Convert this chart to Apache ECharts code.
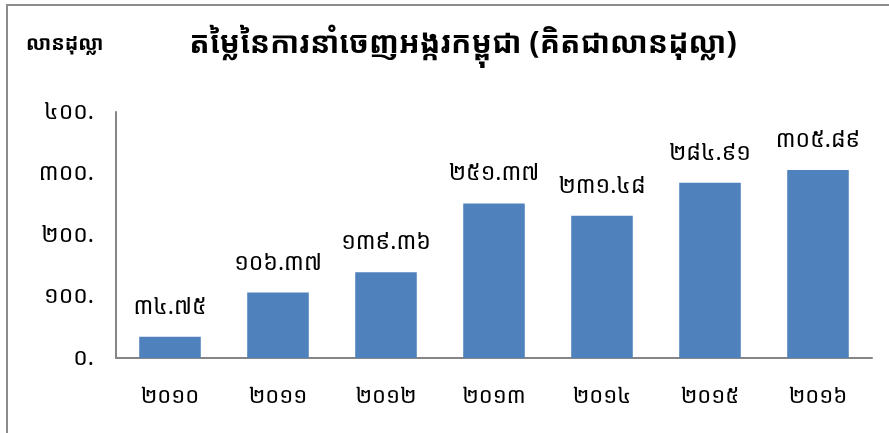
<!DOCTYPE html>
<html>
<head>
<meta charset="utf-8">
<script src="https://cdn.jsdelivr.net/npm/echarts@6/dist/echarts.min.js"></script>
<style>
  html, body { margin: 0; padding: 0; background: #fff; }
  #main { width: 889px; height: 433px; }
</style>
</head>
<body>
<div id="main"></div>
<script>
const years = ["២០១០", "២០១១", "២០១២", "២០១៣", "២០១៤", "២០១៥", "២០១៦"];
const exportValues = [34.75, 106.37, 139.36, 251.37, 231.48, 284.91, 305.89];
const yTickLabels = ["០.", "១០០.", "២០០.", "៣០០.", "៤០០."];
const titleText = "តម្លៃនៃការនាំចេញអង្ករកម្ពុជា (គិតជាលានដុល្លា)";
const unitText = "លានដុល្លា";

const khmerDigits = "០១២៣៤៥៦៧៨៩";
// turn 34.75 into ៣៤.៧៥
function toKhmer(v) {
  return v.toFixed(2).replace(/[0-9]/g, d => khmerDigits[+d]);
}

const fontFam = "'Noto Sans Khmer', 'Khmer OS', 'DejaVu Sans', sans-serif";
const myChart = echarts.init(document.getElementById("main"));

const option = {
  animation: false,
  graphic: [
    {
      type: "rect",
      shape: { x: 7, y: 5, width: 900, height: 450 },
      style: { fill: "none", stroke: "#8c8c8c", lineWidth: 2 }
    },
    {
      type: "text",
      left: 26,
      top: 34,
      style: { text: unitText, font: "bold 20px " + fontFam, fill: "#000" }
    }
  ],
  title: {
    text: titleText,
    left: 458,
    top: 24,
    textAlign: "center",
    textStyle: { fontSize: 30, fontWeight: "bold", color: "#000", fontFamily: fontFam }
  },
  grid: {
    left: 116,
    right: 17,
    top: 112,
    bottom: 75
  },
  xAxis: {
    type: "category",
    data: years,
    axisLine: { lineStyle: { color: "#868686", width: 2 } },
    axisTick: { show: false },
    axisLabel: { color: "#000", fontSize: 22, margin: 28, fontFamily: fontFam }
  },
  yAxis: {
    type: "value",
    min: 0,
    max: 400,
    interval: 100,
    splitLine: { show: false },
    axisLine: { show: true, lineStyle: { color: "#868686", width: 2 } },
    axisTick: { show: false },
    axisLabel: {
      color: "#000",
      fontSize: 23,
      margin: 22,
      fontFamily: fontFam,
      formatter: v => yTickLabels[v / 100]
    }
  },
  series: [
    {
      type: "bar",
      data: exportValues,
      barWidth: "57%",
      itemStyle: { color: "#4F81BD" },
      label: {
        show: true,
        position: "top",
        distance: 18,
        color: "#000",
        fontSize: 23,
        fontFamily: fontFam,
        formatter: p => toKhmer(p.value)
      }
    }
  ]
};
myChart.setOption(option);
</script>
</body>
</html>
